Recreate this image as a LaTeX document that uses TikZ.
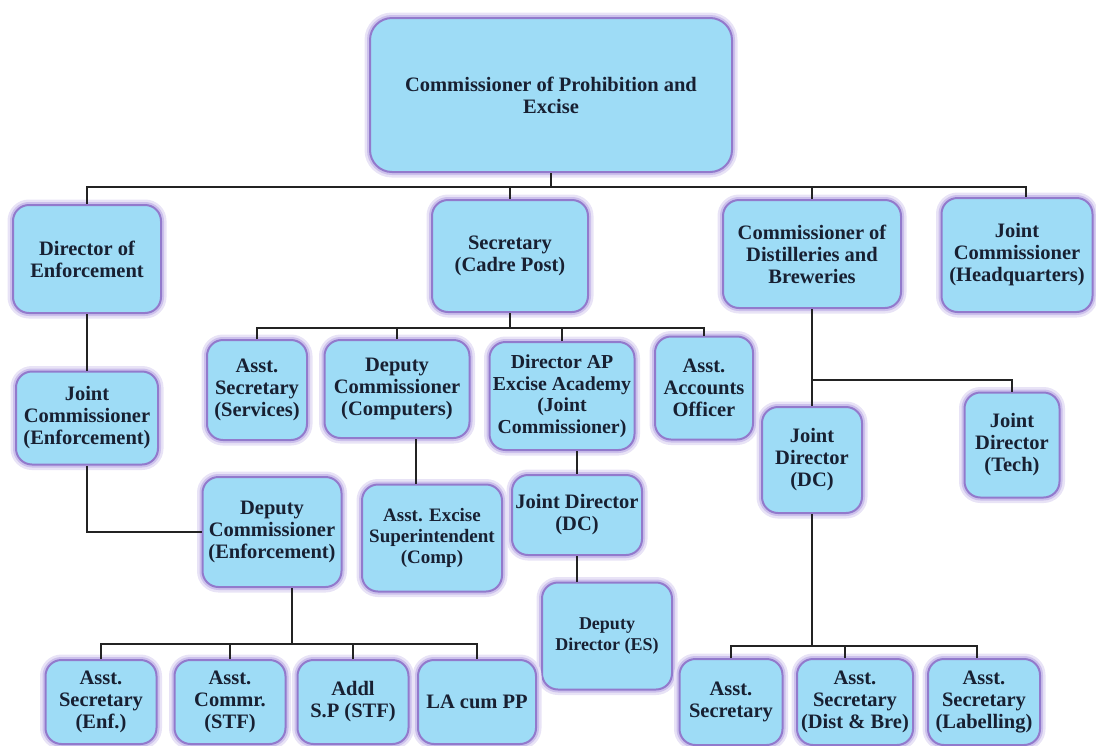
\documentclass[tikz,border=0pt]{standalone}
\usepackage{fontspec}
\setmainfont{Liberation Serif}
\usetikzlibrary{calc, positioning}
\definecolor{boxfill}{RGB}{158,220,246}
\definecolor{boxedge}{RGB}{146,122,204}
\definecolor{boxglow}{RGB}{204,192,236}
\definecolor{ink}{RGB}{24,32,50}
\definecolor{wire}{RGB}{35,35,35}

\begin{document}
\begin{tikzpicture}[x=1pt, y=-1pt,
    post/.style={rectangle, rounded corners=16pt, fill=boxfill, draw=boxedge, line width=2pt,
      preaction={draw=boxglow!45!white, line width=11pt},
      preaction={draw=boxglow, line width=6pt}, align=center, inner sep=1pt, text=ink,
      font=\fontsize{20.5}{22}\selectfont\bfseries},
    smallpost/.style={font=\fontsize{19.8}{21.5}\selectfont\bfseries},
    link/.style={draw=wire, line width=1.8pt}]
    \useasboundingbox (0,0) rectangle (1096,745);

    % Head of department
    \node[post, rounded corners=22pt, minimum width=362, minimum height=154] (cpe) at (551,95) {Commissioner of Prohibition and\\Excise};

    % Second level
    \node[post, minimum width=148, minimum height=108] (dirEnf) at (87,259) {Director of\\Enforcement};
    \node[post, minimum width=156, minimum height=112] (secy) at (510,256) {Secretary\\(Cadre Post)};
    \node[post, minimum width=178, minimum height=108] (commDB) at (812,254) {Commissioner of\\Distilleries and\\Breweries};
    \node[post, minimum width=151, minimum height=114] (jcHQ) at (1017,255) {Joint\\Commissioner\\(Headquarters)};

    % Enforcement wing
    \node[post, minimum width=142, minimum height=93] (jcEnf) at (87,418) {Joint\\Commissioner\\(Enforcement)};
    \node[post, minimum width=139, minimum height=110] (dcEnf) at (272,532) {Deputy\\Commissioner\\(Enforcement)};

    % Under the secretary
    \node[post, minimum width=100, minimum height=100] (asServ) at (257,390) {Asst.\\Secretary\\(Services)};
    \node[post, minimum width=145, minimum height=98] (dcComp) at (397,389) {Deputy\\Commissioner\\(Computers)};
    \node[post, smallpost, minimum width=145, minimum height=108] (dirAP) at (562,396) {Director AP\\Excise Academy\\(Joint\\Commissioner)};
    \node[post, minimum width=98, minimum height=103] (aao) at (704,388) {Asst.\\Accounts\\Officer};
    \node[post, font=\fontsize{19}{21}\selectfont\bfseries, minimum width=140, minimum height=107] (aes) at (432,538) {Asst. Excise\\Superintendent\\(Comp)};
    \node[post, minimum width=130, minimum height=80] (jdMid) at (577,515) {Joint Director\\(DC)};
    \node[post, font=\fontsize{18}{21}\selectfont\bfseries, minimum width=130, minimum height=107] (ddES) at (607,636) {Deputy\\Director (ES)};

    % Distilleries wing
    \node[post, minimum width=100, minimum height=106] (jdDC) at (812,460) {Joint\\Director\\(DC)};
    \node[post, minimum width=95, minimum height=105] (jdTech) at (1012,445) {Joint\\Director\\(Tech)};

    % Bottom row
    \node[post, minimum width=111, minimum height=84] (asEnf) at (101,702) {Asst.\\Secretary\\(Enf.)};
    \node[post, minimum width=111, minimum height=84] (acSTF) at (230,702) {Asst.\\Commr.\\(STF)};
    \node[post, minimum width=111, minimum height=84] (addlSP) at (353,702) {Addl\\S.P (STF)};
    \node[post, minimum width=118, minimum height=84] (laPP) at (477,702) {LA cum PP};
    \node[post, minimum width=103, minimum height=86] (asSec) at (731,702) {Asst.\\Secretary};
    \node[post, minimum width=116, minimum height=86] (asDB) at (855,702) {Asst.\\Secretary\\(Dist \& Bre)};
    \node[post, minimum width=112, minimum height=86] (asLab) at (984,702) {Asst.\\Secretary\\(Labelling)};

    % Top bus
    \coordinate (topBus) at ($(cpe.south)+(0,14)$);
    \draw[link] (cpe.south) -- (topBus);
    \draw[link] (dirEnf.north) |- (topBus) -| ([xshift=9pt]jcHQ.north);
    \draw[link] (secy.north) -- (secy.north |- topBus);
    \draw[link] (commDB.north) -- (commDB.north |- topBus);

    % Enforcement chain
    \draw[link] (dirEnf) -- (jcEnf);
    \draw[link] (jcEnf.south) |- (dcEnf.west);
    \coordinate (enfBus) at (292,644);
    \draw[link] (dcEnf.south -| enfBus) -- (enfBus);
    \draw[link] (asEnf.north) |- (enfBus) -| (laPP.north);
    \draw[link] (acSTF.north) -- (acSTF.north |- enfBus);
    \draw[link] (addlSP.north) -- (addlSP.north |- enfBus);

    % Secretary bus
    \coordinate (secBus) at ($(secy.south)+(0,15)$);
    \draw[link] (secy.south) -- (secBus);
    \draw[link] (asServ.north) |- (secBus) -| (aao.north);
    \draw[link] (dcComp.north) -- (dcComp.north |- secBus);
    \draw[link] (dirAP.north) -- (dirAP.north |- secBus);
    \draw[link] ([xshift=19pt]dcComp.south) -- ([xshift=19pt]dcComp.south |- aes.north);
    \draw[link] (jdMid.north |- dirAP.south) -- (jdMid.north);
    \draw[link] (jdMid.south) -- (jdMid.south |- ddES.north);

    % Distilleries chain
    \coordinate (dbBus) at ($(commDB.south)+(0,71)$);
    \draw[link] (commDB.south) -- (jdDC.north);
    \draw[link] (dbBus) -| (jdTech.north);
    \coordinate (distBus) at ($(jdDC.south)+(0,132)$);
    \draw[link] (jdDC.south) -- (distBus);
    \draw[link] (asSec.north) |- (distBus) -| ([xshift=-7pt]asLab.north);
    \draw[link] ([xshift=-10pt]asDB.north) -- ([xshift=-10pt]asDB.north |- distBus);
\end{tikzpicture}
\end{document}
